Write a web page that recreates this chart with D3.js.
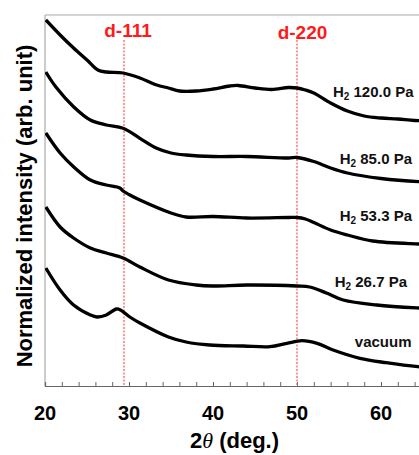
<!DOCTYPE html>
<html>
<head>
<meta charset="utf-8">
<script src="https://cdn.jsdelivr.net/npm/d3@7"></script>
<style>
  body { margin: 0; background: #fff; }
  svg text { font-family: "Liberation Sans", Arial, sans-serif; font-weight: bold; }
</style>
</head>
<body>
<div id="chart"></div>
<script>
// 2theta sample positions (deg) per spectrum
const xH120 = [20.1, 21.8, 23.4, 25.0, 26.3, 27.3, 29.3, 31.3, 33.3, 34.7, 36, 38, 40, 42, 43, 45, 47, 49, 50, 51, 52, 54, 56, 58, 60, 62, 64, 66];
const yH120 = [36.6, 35.1, 33.8, 32.6, 31.6, 31.4, 31.3, 30.8, 30.1, 29.8, 29.5, 29.5, 29.7, 30.0, 30.05, 29.8, 29.65, 29.85, 29.8, 29.6, 29.3, 28.3, 27.5, 27.0, 26.8, 26.7, 26.55, 26.5];

const xH85 = [20.1, 21.3, 23.4, 25.4, 27.3, 29.3, 31.3, 33.3, 35, 36.8, 40, 44, 49, 50, 52, 54, 56, 60, 64.5, 66];
const yH85 = [31.4, 29.9, 27.93, 26.6, 26.1, 25.77, 24.77, 23.77, 23.3, 23.1, 22.95, 22.95, 22.8, 22.85, 22.45, 21.8, 21.3, 20.75, 20.43, 20.4];

const xH53 = [20.1, 21.8, 23.4, 25.4, 27.3, 28.9, 29.3, 30.1, 31.3, 35, 36.8, 40, 44, 49, 50, 51, 52, 54, 56, 59, 64.5, 66];
const yH53 = [25.3, 23.3, 21.93, 20.6, 20.1, 19.8, 19.5, 19.1, 18.6, 17.3, 16.9, 16.95, 16.8, 16.85, 16.85, 16.7, 16.35, 15.6, 15.1, 14.5, 14.2, 14.15];

const xH27 = [20.1, 21.8, 23.4, 25.4, 27.3, 29.3, 31.3, 34.7, 38, 40, 44, 50, 51.5, 53.5, 55.5, 59.5, 64.5, 66];
const yH27 = [17.9, 15.9, 14.8, 13.8, 13.3, 12.8, 11.9, 10.6, 10.1, 10.0, 10.1, 10.0, 9.9, 9.3, 8.6, 8.1, 7.8, 7.75];

const xVac = [20.1, 21.8, 23.4, 25.4, 26.2, 27.3, 28.5, 29.0, 30.1, 31.3, 34.7, 36.8, 39.6, 43.6, 46.8, 48.8, 50.6, 52.4, 54.3, 57.5, 60.6, 64.4, 66];
const yVac = [11.8, 9.6, 8.1, 7.1, 6.9, 7.1, 7.7, 7.6, 6.9, 6.3, 4.9, 4.4, 4.1, 4.0, 3.93, 4.27, 4.53, 4.27, 3.6, 2.77, 2.33, 1.93, 1.85];

const seriesNames = ["H\u2082 120.0 Pa", "H\u2082 85.0 Pa", "H\u2082 53.3 Pa", "H\u2082 26.7 Pa", "vacuum"];
const labelY = [28.95, 22.25, 16.5, 9.9, 3.95];   // baseline positions, data units
const labelRight = [413.5, 412, 412, 407, 411.5];

const refNames = ["d-111", "d-220"];
const refPos = [29.35, 50.0];

const xTicks = [20, 30, 40, 50, 60];

const W = 419, H = 455;
const margin = { top: 15, left: 45, bottom: 69 };

const svg = d3.select("#chart").append("svg")
  .attr("width", W)
  .attr("height", H);

const x = d3.scaleLinear().domain([20, 70]).range([margin.left, margin.left + 50 * 8.4]);
const y = d3.scaleLinear().domain([0, 37.1]).range([H - margin.bottom, margin.top]);

// frame (left and top, gray)
svg.append("line")
  .attr("x1", margin.left).attr("x2", margin.left)
  .attr("y1", margin.top).attr("y2", H - margin.bottom)
  .attr("stroke", "#aaa").attr("stroke-width", 1.2);
svg.append("line")
  .attr("x1", margin.left).attr("x2", W)
  .attr("y1", margin.top).attr("y2", margin.top)
  .attr("stroke", "#aaa").attr("stroke-width", 1.2);

// bottom axis, minor ticks pointing inward
const xAxis = d3.axisBottom(x)
  .tickValues(d3.range(20, 71, 2))
  .tickSize(-4)
  .tickFormat("");
const gx = svg.append("g")
  .attr("transform", `translate(0,${H - margin.bottom})`)
  .call(xAxis);
gx.select(".domain").attr("stroke", "#666").attr("stroke-width", 1.2);
gx.selectAll(".tick line").attr("stroke", "#666");

svg.selectAll(".xlab")
  .data(xTicks)
  .enter().append("text")
  .attr("class", "xlab")
  .attr("x", d => x(d))
  .attr("y", 420)
  .attr("text-anchor", "middle")
  .attr("font-size", 20)
  .attr("fill", "#000")
  .text(d => d);

// reference lines
svg.selectAll(".ref")
  .data(refPos)
  .enter().append("line")
  .attr("x1", d => Math.round(x(d))).attr("x2", d => Math.round(x(d)))
  .attr("y1", 40).attr("y2", H - margin.bottom)
  .attr("stroke", "#ff6060")
  .attr("stroke-width", 1.3)
  .attr("stroke-dasharray", "2,1.5");

svg.selectAll(".refLab")
  .data(refNames)
  .enter().append("text")
  .attr("x", (d, i) => i === 0 ? 128 : 302.5)
  .attr("y", (d, i) => i === 0 ? 36.5 : 39)
  .attr("text-anchor", "middle")
  .attr("font-size", 19)
  .attr("fill", "#ff1a1a")
  .text(d => d);

// spectra
const spectra = [
  [xH120, yH120], [xH85, yH85], [xH53, yH53], [xH27, yH27], [xVac, yVac]
];

svg.append("clipPath").attr("id", "plotClip")
  .append("rect")
  .attr("x", margin.left).attr("y", margin.top)
  .attr("width", W - margin.left).attr("height", H - margin.bottom - margin.top);

const line = d3.line()
  .x(d => x(d[0]))
  .y(d => y(d[1]))
  .curve(d3.curveCatmullRom.alpha(0.5));

svg.append("g").attr("clip-path", "url(#plotClip)")
  .selectAll("path")
  .data(spectra)
  .enter().append("path")
  .attr("d", s => line(s[0].map((v, i) => [v, s[1][i]])))
  .attr("fill", "none")
  .attr("stroke", "#000")
  .attr("stroke-width", 3.3)
  .attr("stroke-linejoin", "round");

// spectrum labels
const lab = svg.selectAll(".slab")
  .data(seriesNames)
  .enter().append("text")
  .attr("x", (d, i) => labelRight[i])
  .attr("y", (d, i) => y(labelY[i]))
  .attr("text-anchor", "end")
  .attr("font-size", 15)
  .attr("fill", "#111");

lab.each(function(d) {
  const t = d3.select(this);
  if (d.startsWith("H")) {
    t.append("tspan").text("H");
    t.append("tspan").attr("font-size", 10).attr("dy", 3).text("2");
    t.append("tspan").attr("dy", -3).text(" " + d.slice(3));
  } else {
    t.text(d);
  }
});

// axis titles
svg.append("text")
  .attr("transform", "translate(32,206) rotate(-90)")
  .attr("text-anchor", "middle")
  .attr("font-size", 22)
  .attr("fill", "#000")
  .text("Normalized intensity (arb. unit)");

const xt = svg.append("text")
  .attr("x", 190)
  .attr("y", 448)
  .attr("text-anchor", "start")
  .attr("font-size", 22)
  .attr("fill", "#000");
xt.append("tspan").text("2");
xt.append("tspan").attr("font-style", "italic").attr("font-family", "'Liberation Serif', serif").attr("font-weight", "normal").text("\u03b8");
xt.append("tspan").text(" (deg.)");
</script>
</body>
</html>
